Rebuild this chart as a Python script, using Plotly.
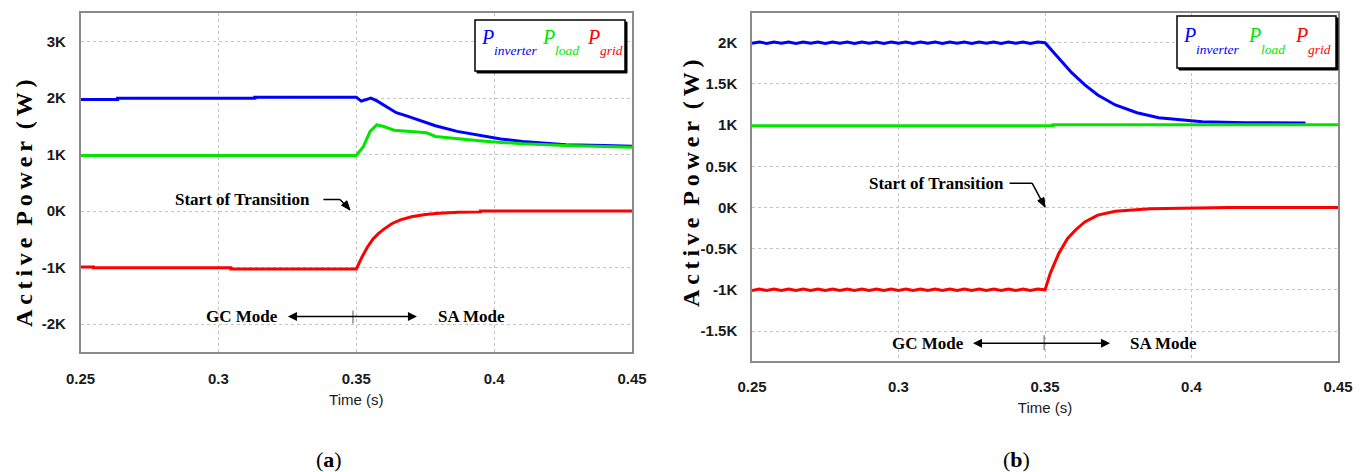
import math
import plotly.graph_objects as go

# The page body has an 8px margin, so the figure is placed at (8, 8) in the window.
OFF = 8
FW, FH = 1362 - OFF, 472 - OFF

BLUE = "#0000ff"
GREEN = "#00e600"
RED = "#ff0000"

# ---------------- axis ticks ----------------
x_ticks = [0.25, 0.3, 0.35, 0.4, 0.45]
x_ticklabels = ["0.25", "0.3", "0.35", "0.4", "0.45"]
y_ticks_a = [-2000, -1000, 0, 1000, 2000, 3000]
y_ticklabels_a = ["-2K", "-1K", "0K", "1K", "2K", "3K"]
y_ticks_b = [-1500, -1000, -500, 0, 500, 1000, 1500, 2000]
y_ticklabels_b = ["-1.5K", "-1K", "-0.5K", "0K", "0.5K", "1K", "1.5K", "2K"]

# ---------------- legend entries ----------------
legend_subs = ["inverter", "load", "grid"]
legend_colors = [BLUE, GREEN, RED]

# ---------------- panel (a) data ----------------
t_inv_a = [0.25, 0.2634, 0.2634, 0.3132, 0.3132, 0.35, 0.3518, 0.3535, 0.3553,
           0.3575, 0.3597, 0.3645, 0.3685, 0.3724, 0.3787, 0.3866, 0.3945,
           0.4024, 0.4103, 0.4182, 0.426, 0.44, 0.45]
p_inv_a = [1975, 1975, 1998, 1998, 2016, 2016, 1945, 1975, 2000,
           1950, 1886, 1740, 1680, 1620, 1510, 1410, 1340,
           1275, 1233, 1205, 1175, 1162, 1145]

t_load_a = [0.25, 0.35, 0.3526, 0.355, 0.3574, 0.3597, 0.3637, 0.3676, 0.3724,
            0.3755, 0.3787, 0.3866, 0.3945, 0.4024, 0.4103, 0.426, 0.45]
p_load_a = [985, 985, 1144, 1410, 1525, 1500, 1430, 1415, 1410,
            1385, 1320, 1280, 1245, 1215, 1190, 1162, 1127]

t_grid_a = [0.25, 0.2547, 0.2547, 0.3045, 0.3045, 0.35, 0.352, 0.354, 0.356,
            0.358, 0.36, 0.363, 0.366, 0.37, 0.375, 0.38, 0.387, 0.395, 0.395, 0.45]
p_grid_a = [-990, -990, -1005, -1005, -1025, -1025, -820, -640, -500,
            -400, -320, -220, -155, -100, -60, -38, -22, -15, 0, 0]

# ---------------- panel (b) data ----------------
t_ripple_b = [0.25, 0.2525, 0.255, 0.2575, 0.26, 0.2625, 0.265, 0.2675, 0.27, 0.2725,
              0.275, 0.2775, 0.28, 0.2825, 0.285, 0.2875, 0.29, 0.2925, 0.295, 0.2975,
              0.3, 0.3025, 0.305, 0.3075, 0.31, 0.3125, 0.315, 0.3175, 0.32, 0.3225,
              0.325, 0.3275, 0.33, 0.3325, 0.335, 0.3375, 0.34, 0.3425, 0.345, 0.3475]
p_inv_b_ripple = [1993, 2009, 1992, 2009, 1993, 2009, 1992, 2009, 1993, 2009,
                  1992, 2009, 1993, 2009, 1992, 2009, 1993, 2009, 1992, 2009,
                  1993, 2009, 1992, 2009, 1993, 2009, 1992, 2009, 1993, 2009,
                  1992, 2009, 1993, 2009, 1992, 2009, 1993, 2009, 1992, 2009]
t_inv_b_decay = [0.35, 0.3532, 0.3562, 0.3591, 0.3636, 0.368, 0.374, 0.3814,
                 0.3888, 0.3963, 0.4037, 0.4185, 0.4389]
p_inv_b_decay = [2000, 1871, 1750, 1636, 1487, 1365, 1244, 1150,
                 1090, 1062, 1040, 1029, 1025]

t_load_b = [0.25, 0.3527, 0.3527, 0.45]
p_load_b = [993, 993, 1005, 1005]

p_grid_b_ripple = [-1008, -991, -1009, -991, -1008, -991, -1009, -991, -1008, -991,
                   -1009, -991, -1008, -991, -1009, -991, -1008, -991, -1009, -991,
                   -1008, -991, -1009, -991, -1008, -991, -1009, -991, -1008, -991,
                   -1009, -991, -1008, -991, -1009, -991, -1008, -991, -1009, -991]
t_grid_b_rise = [0.35, 0.3518, 0.3547, 0.3577, 0.3605, 0.3636, 0.368, 0.374,
                 0.3859, 0.4126, 0.4126, 0.45]
p_grid_b_rise = [-1000, -800, -558, -376, -270, -175, -93, -45,
                 -17, -5, 0, 0]

t_inv_b = t_ripple_b + t_inv_b_decay
p_inv_b = p_inv_b_ripple + p_inv_b_decay
t_grid_b = t_ripple_b + t_grid_b_rise
p_grid_b = p_grid_b_ripple + p_grid_b_rise


def px(x):
    return (x - OFF) / FW


def py(y):
    return 1 - (y - OFF) / FH


fig = go.Figure()

for (t, p, c, xa, ya) in [
    (t_inv_a, p_inv_a, BLUE, "x", "y"),
    (t_load_a, p_load_a, GREEN, "x", "y"),
    (t_grid_a, p_grid_a, RED, "x", "y"),
    (t_inv_b, p_inv_b, BLUE, "x2", "y2"),
    (t_load_b, p_load_b, GREEN, "x2", "y2"),
    (t_grid_b, p_grid_b, RED, "x2", "y2"),
]:
    fig.add_trace(go.Scatter(x=t, y=p, mode="lines", line=dict(color=c, width=3),
                             xaxis=xa, yaxis=ya, showlegend=False, hoverinfo="skip"))

TICKFONT = dict(family="Liberation Sans Narrow, Liberation Sans, Arial", size=15,
                color="#1a1a1a", weight="bold")
common = dict(showline=True, linecolor="#8a8a8a", linewidth=1.5, mirror=True,
              showgrid=True, gridcolor="#c4c4c4", griddash="dot", gridwidth=1,
              zeroline=False, ticks="", automargin=False, tickfont=TICKFONT)

XTITLE = dict(text="Time (s)", font=dict(family="Liberation Sans Narrow, Liberation Sans, Arial",
                                          size=15, color="#1a1a1a"), standoff=8)
YTITLE_TXT = ("A\u2009c\u2009t\u2009i\u2009v\u2009e\u2002P\u2009o\u2009w\u2009e\u2009r"
              "\u2002(\u2009W\u2009)")
SERIF = "Liberation Serif, Times New Roman"
YTITLE_FONT = dict(family=SERIF, size=24, color="black", weight="bold")

fig.update_layout(
    width=FW, height=FH,
    margin=dict(l=0, r=0, t=0, b=0),
    paper_bgcolor="white", plot_bgcolor="white",
    xaxis=dict(domain=[px(80.6), px(632)], range=[0.25, 0.45], tickvals=x_ticks,
               ticktext=x_ticklabels, anchor="y", title=XTITLE, ticklabelstandoff=12, **common),
    yaxis=dict(domain=[py(352.3), py(13.3)], range=[-2500, 3500], tickvals=y_ticks_a,
               ticktext=y_ticklabels_a, anchor="x", ticklabelstandoff=10, **common),
    xaxis2=dict(domain=[px(752), px(1338)], range=[0.25, 0.45], tickvals=x_ticks,
                ticktext=x_ticklabels, anchor="y2", title=XTITLE, ticklabelstandoff=12, **common),
    yaxis2=dict(domain=[py(360.7), py(12.7)], range=[-1860, 2364], tickvals=y_ticks_b,
                ticktext=y_ticklabels_b, anchor="x2", ticklabelstandoff=10, **common),
)

shapes = []
annotations = []

# ---------------- y-axis titles (vertical text) ----------------
for (x, y) in [(24, 204), (691, 184)]:
    annotations.append(dict(xref="paper", yref="paper", x=px(x), y=py(y), xanchor="center",
                            yanchor="middle", showarrow=False, textangle=-90,
                            text=YTITLE_TXT, font=YTITLE_FONT))

# ---------------- legend boxes ----------------
for (x0, y0, x1, y1) in [(475, 20, 625, 71), (1177, 16, 1336, 68)]:
    shapes.append(dict(type="rect", xref="paper", yref="paper",
                       x0=px(x0 + 2), x1=px(x1 + 2), y0=py(y1 + 2), y1=py(y0 + 2),
                       line=dict(color="black", width=1), fillcolor="black"))
    shapes.append(dict(type="rect", xref="paper", yref="paper",
                       x0=px(x0), x1=px(x1), y0=py(y1), y1=py(y0),
                       line=dict(color="black", width=1.5), fillcolor="white"))

# (P x positions, P centre y, subscript centre y)
for (xs, yP, yS) in [((480, 541, 586), 37, 51), ((1182, 1247, 1294), 35, 49)]:
    for (x, sub, c) in zip(xs, legend_subs, legend_colors):
        annotations.append(dict(xref="paper", yref="paper", x=px(x), y=py(yP),
                                xanchor="left", yanchor="middle", showarrow=False,
                                text="<i>P</i>", borderpad=0,
                                font=dict(family=SERIF, size=20, color=c)))
        annotations.append(dict(xref="paper", yref="paper", x=px(x + 12.5), y=py(yS),
                                xanchor="left", yanchor="middle", showarrow=False,
                                text="<i>%s</i>" % sub, borderpad=0,
                                font=dict(family=SERIF, size=13.5, color=c)))

# ---------------- text annotations with arrows ----------------
TXTFONT = dict(family=SERIF, size=17, color="black", weight="bold")

panels = [
    dict(xr="x", yr="y", stc=(0.3087, 205), bend=(0.3441, 205), sso=12, tip=(0.3477, 20),
         dpx=(10, 12), my=-1868, gcc=0.3087, rt=0.372, ct=0.3488, ty=(-1762, -1993),
         sa=0.3789),
    dict(xr="x2", yr="y2", stc=(0.313, 295), bend=(0.3456, 295), sso=4, tip=(0.35, 5),
         dpx=(13, 25), my=-1647, gcc=0.3099, rt=0.3722, ct=0.3497, ty=(-1550, -1732),
         sa=0.3783),
]
for P in panels:
    # "Start of Transition" with the horizontal part of the bent arrow
    annotations.append(dict(xref=P["xr"], yref=P["yr"], x=P["bend"][0], y=P["bend"][1],
                            axref=P["xr"], ayref=P["yr"], ax=P["stc"][0], ay=P["stc"][1],
                            text="Start of Transition", font=TXTFONT, showarrow=True,
                            arrowhead=0, arrowwidth=1.5, arrowcolor="black",
                            standoff=0, startstandoff=P["sso"]))
    # diagonal part
    shapes.append(dict(type="line", xref=P["xr"], yref=P["yr"], x0=P["bend"][0], x1=P["tip"][0],
                       y0=P["bend"][1], y1=P["tip"][1], line=dict(color="black", width=1.5)))
    # arrow head (pixel-sized triangle anchored at the tip)
    dx, dy = P["dpx"]
    n = math.hypot(dx, dy)
    ux, uy = dx / n, -dy / n  # direction in pixel space (y up)
    L, Wd = 9, 3.5
    bx, by = -ux * L, -uy * L
    nx, ny = -uy, ux
    path = "M 0 0 L %.2f %.2f L %.2f %.2f Z" % (bx + nx * Wd, by + ny * Wd, bx - nx * Wd, by - ny * Wd)
    shapes.append(dict(type="path", xref=P["xr"], yref=P["yr"], xsizemode="pixel",
                       ysizemode="pixel", xanchor=P["tip"][0], yanchor=P["tip"][1], path=path,
                       fillcolor="black", line=dict(color="black", width=1)))
    # "GC Mode" with the double-headed arrow
    annotations.append(dict(xref=P["xr"], yref=P["yr"], x=P["rt"], y=P["my"],
                            axref=P["xr"], ayref=P["yr"], ax=P["gcc"], ay=P["my"],
                            text="GC Mode", font=TXTFONT, showarrow=True,
                            arrowside="end+start", arrowhead=2, startarrowhead=2,
                            arrowsize=1.2, startarrowsize=1.2, arrowwidth=1.5,
                            arrowcolor="black", standoff=0, startstandoff=8))
    shapes.append(dict(type="line", xref=P["xr"], yref=P["yr"], x0=P["ct"], x1=P["ct"],
                       y0=P["ty"][0], y1=P["ty"][1], line=dict(color="#555555", width=1)))
    annotations.append(dict(xref=P["xr"], yref=P["yr"], x=P["sa"], y=P["my"], xanchor="left",
                            yanchor="middle", showarrow=False, text="SA Mode", font=TXTFONT))

# ---------------- panel labels ----------------
for (x, lab) in [(329, "a"), (1016, "b")]:
    annotations.append(dict(xref="paper", yref="paper", x=px(x), y=py(459), xanchor="center",
                            yanchor="middle", showarrow=False, text="(<b>%s</b>)" % lab,
                            font=dict(family=SERIF, size=22, color="black")))

fig.update_layout(shapes=shapes, annotations=annotations)
fig.write_html("out.html")
